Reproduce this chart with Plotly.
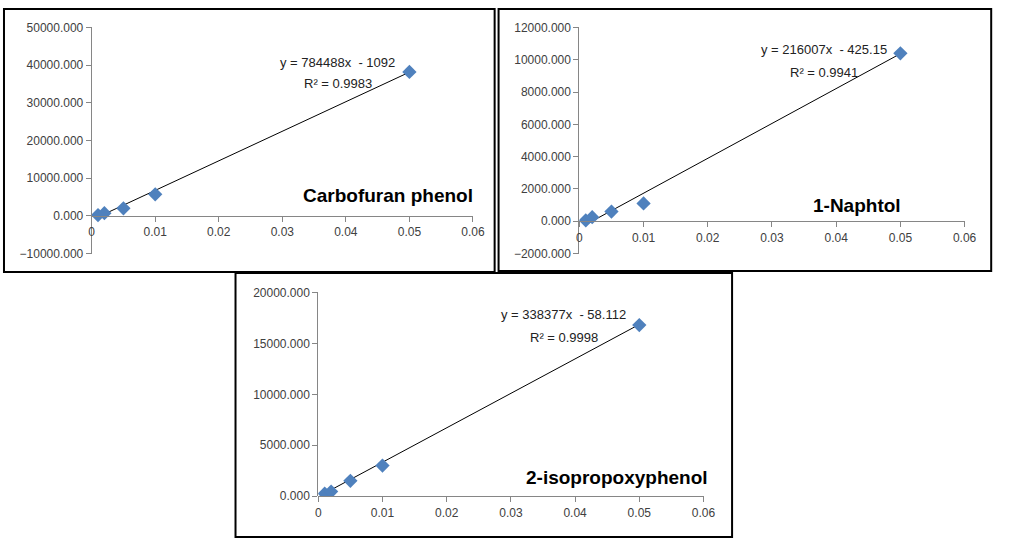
import plotly.graph_objects as go

W, H = 1016, 546

conc = [0.001, 0.002, 0.005, 0.01, 0.05]
carbofuran = [200, 700, 2000, 5700, 38200]
naphtol = [50, 250, 600, 1100, 10400]
isopropoxy = [250, 450, 1500, 3000, 16800]

names = ["Carbofuran phenol", "1-Naphtol", "2-isopropoxyphenol"]
slopes = [784488, 216007, 338377]
intercepts = [-1092, -425.15, -58.112]
eq_texts = ["y = 784488x  - 1092", "y = 216007x  - 425.15", "y = 338377x  - 58.112"]
r2_texts = ["R² = 0.9983", "R² = 0.9941", "R² = 0.9998"]
y_ranges = [(-10000, 50000), (-2000, 12000), (0, 20000)]
y_dticks = [10000, 2000, 5000]
x_ticks = [0, 0.01, 0.02, 0.03, 0.04, 0.05, 0.06]
x_ticktext = ["0", "0.01", "0.02", "0.03", "0.04", "0.05", "0.06"]

# pixel layout of each plot area: (left, right, top, bottom)
areas = [(90, 477, 21, 253), (585, 976, 21, 253), (320, 711, 293, 502)]
boxes = [(1, 499, 2, 272), (503, 1003, 2, 271), (236, 740, 273, 544)]
eq_pos = [(340, 57, 79), (833, 44, 67), (569, 316, 339)]
label_pos = [(391, 193), (867, 204), (623, 483)]

series = [carbofuran, naphtol, isopropoxy]

def fx(px):
    return px / W

def fy(py):
    return 1 - py / H

fig = go.Figure()
shapes = []
annotations = []
tick_font = dict(family="Liberation Sans, Arial", size=12, color="#404040")
eq_font = dict(family="Liberation Sans, Arial", size=13, color="#222222")

for i in range(3):
    l, r, t, b = areas[i]
    sfx = "" if i == 0 else str(i + 1)
    xa = "x" + sfx
    ya = "y" + sfx
    ymin, ymax = y_ranges[i]
    # trendline from the displayed regression equation
    x0, x1 = conc[0], conc[-1]
    fig.add_trace(go.Scatter(
        x=[x0, x1], y=[slopes[i] * x0 + intercepts[i], slopes[i] * x1 + intercepts[i]],
        mode="lines", line=dict(color="black", width=1), xaxis=xa, yaxis=ya,
        showlegend=False, hoverinfo="skip"))
    fig.add_trace(go.Scatter(
        x=conc, y=series[i], mode="markers",
        marker=dict(symbol="diamond", size=11, color="#4F81BD"),
        xaxis=xa, yaxis=ya, showlegend=False, name=names[i]))
    zero_px = t + (ymax - 0) / (ymax - ymin) * (b - t)
    xaxis = dict(
        domain=[fx(l), fx(r)], range=[0, 0.06], tickvals=x_ticks, ticktext=x_ticktext,
        showgrid=False, zeroline=False, showline=True, linecolor="#868686", linewidth=1,
        ticks="outside", ticklen=5, tickcolor="#868686", tickfont=tick_font,
        anchor="free", position=fy(zero_px), fixedrange=True)
    yaxis = dict(
        domain=[fy(b), fy(t)], range=[ymin, ymax], dtick=y_dticks[i], tick0=0,
        tickformat=".3f", showgrid=False, zeroline=False, showline=True,
        linecolor="#868686", linewidth=1, ticks="outside", ticklen=5,
        tickcolor="#868686", tickfont=tick_font, anchor=xa, fixedrange=True)
    fig.update_layout(**{"xaxis" + sfx: xaxis, "yaxis" + sfx: yaxis})
    bl, br, bt, bb = boxes[i]
    shapes.append(dict(type="rect", xref="paper", yref="paper",
                       x0=fx(bl), x1=fx(br), y0=fy(bb), y1=fy(bt),
                       line=dict(color="black", width=2)))
    ex, ey1, ey2 = eq_pos[i]
    annotations.append(dict(x=fx(ex), y=fy(ey1), xref="paper", yref="paper",
                            xanchor="center", yanchor="middle",
                            text=eq_texts[i], showarrow=False, font=eq_font))
    annotations.append(dict(x=fx(ex), y=fy(ey2), xref="paper", yref="paper",
                            xanchor="center", yanchor="middle",
                            text=r2_texts[i], showarrow=False, font=eq_font))
    lx, ly = label_pos[i]
    annotations.append(dict(x=fx(lx), y=fy(ly), xref="paper", yref="paper",
                            xanchor="center", yanchor="middle",
                            text="<b>" + names[i] + "</b>", showarrow=False,
                            font=dict(family="Liberation Sans, Arial", size=19, color="black")))

fig.update_layout(
    width=W, height=H, margin=dict(l=0, r=0, t=0, b=0),
    paper_bgcolor="white", plot_bgcolor="white",
    shapes=shapes, annotations=annotations, showlegend=False)

fig.write_html("out.html", config={"displayModeBar": False},
               post_script="document.body.style.margin='0';document.body.style.overflow='hidden';")
